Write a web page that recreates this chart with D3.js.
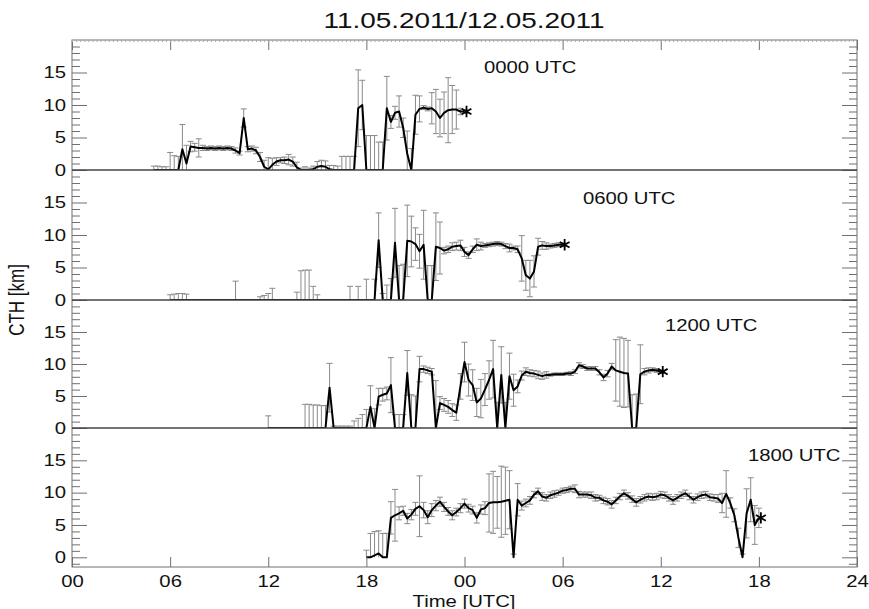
<!DOCTYPE html>
<html>
<head>
<meta charset="utf-8">
<script src="https://cdn.jsdelivr.net/npm/d3@7"></script>
<style>
  body { margin: 0; background: #fff; }
  text { font-family: "Liberation Sans", Arial, Helvetica, sans-serif; fill: #111; }
</style>
</head>
<body>
<div id="chart"></div>
<script>
// ---- data (CTH mean and spread, 15 min steps, one row per hour) ----
let titleText = "11.05.2011/12.05.2011";
let panelLabels = ["0000 UTC", "0600 UTC", "1200 UTC", "1800 UTC"];
let startHours = [5, 6, 12, 18];
let stepHours = 0.25;
let xTickHours = [0, 6, 12, 18, 24, 30, 36, 42, 48];
let xTickLabels = ["00", "06", "12", "18", "00", "06", "12", "18", "24"];
let yTickValues = [0, 5, 10, 15];

let cth0000 = [
  0, 0, 0, 0,            // 05
  0, 0, 0, 3.2,          // 06
  1.0, 3.6, 3.5, 3.4,    // 07
  3.4, 3.3, 3.4, 3.3,    // 08
  3.4, 3.3, 3.4, 3.3,    // 09
  3.0, 2.6, 8.0, 3.2,    // 10
  3.3, 3.0, 2.0, 0.5,    // 11
  0.1, 0.8, 1.3, 1.5,    // 12
  1.5, 1.6, 1.3, 0.4,    // 13
  0, 0, 0, 0.1,          // 14
  0.5, 0.6, 0.5, 0.1,    // 15
  0, 0, 0, 0,            // 16
  0, 0, 9.5, 10.0,       // 17
  0, 0, 0, 0,            // 18
  0, 9.5, 7.4, 8.8,      // 19
  9.0, 6.5, 2.5, 0,      // 20
  8.5, 9.4, 9.6, 9.4,    // 21
  9.5, 9.0, 8.0, 8.8,    // 22
  9.2, 9.3, 9.3, 9.0,    // 23
  9.0                    // 24
];
let err0000 = [
  0.6, 0.6, 0.5, 0.5,
  2.7, 2.2, 2.1, 3.8,
  2.8, 0.8, 0.6, 1.4,
  0.4, 0.3, 0.3, 0.3,
  0.3, 0.3, 0.3, 0.3,
  0.4, 0.3, 1.4, 0.4,
  0.4, 0.5, 0.7, 1.0,
  1.8, 1.0, 0.6, 0.4,
  0.5, 0.8, 0.7, 0.8,
  0.3, 0.5, 0.3, 0.5,
  0.8, 0.9, 0.9, 0.6,
  0.7, 0.6, 2.1, 2.1,
  2.1, 2.1, 5.9, 3.8,
  5.3, 5.3, 5.3, 4.3,
  4.3, 4.9, 1.0, 1.0,
  2.4, 1.5, 3.5, 3.3,
  3.0, 2.0, 0.3, 0.3,
  2.4, 3.4, 2.9, 3.2,
  5.0, 3.7, 3.0, 0.5,
  0.3
];

let cth0600 = [
  0, 0, 0, 0,            // 06
  0, 0, 0, 0,            // 07
  0, 0, 0, 0,            // 08
  0, 0, 0, 0,            // 09
  0, 0, 0, 0,            // 10
  0, 0, 0, 0,            // 11
  0, 0, 0, 0,            // 12
  0, 0, 0, 0,            // 13
  0, 0, 0, 0,            // 14
  0, 0, 0, 0,            // 15
  0, 0, 0, 0,            // 16
  0, 0, 0, 0,            // 17
  0, 0, 0, 9.2,          // 18
  0, 0, 0, 8.8,          // 19
  0, 0, 9.1, 9.0,        // 20
  8.6, 7.5, 8.5, 0,      // 21
  0, 8.2, 8.0, 7.6,      // 22
  7.8, 8.2, 8.3, 8.4,    // 23
  7.4, 6.9, 7.8, 8.5,    // 24
  8.3, 8.4, 8.5, 8.6,    // 25
  8.7, 8.6, 8.3, 8.0,    // 26
  8.0, 7.8, 6.4, 3.8,    // 27
  3.3, 4.4, 8.2, 8.4,    // 28
  8.3, 8.3, 8.4, 8.5,    // 29
  8.5                    // 30
];
let err0600 = [
  0.8, 0.9, 1.0, 1.0,
  0.9, 0, 0, 0,
  0, 0, 0, 0,
  0, 0, 0, 0,
  2.9, 0, 0, 0,
  0, 0, 0.5, 0.7,
  1.0, 1.8, 0, 0,
  0, 0, 0, 1.2,
  4.5, 4.6, 4.6, 2.1,
  0.8, 0, 0, 0,
  0, 0, 0, 0,
  2.1, 0, 2.1, 0,
  3.2, 0, 3.2, 4.2,
  1.0, 2.3, 3.3, 5.3,
  5.3, 5.5, 5.5, 3.9,
  2.5, 2.6, 5.3, 5.3,
  5.3, 5.2, 4.0, 0.5,
  0.5, 0.6, 0.6, 0.8,
  0.7, 0.5, 0.5, 0.9,
  0.6, 0.3, 0.3, 0.3,
  0.3, 0.3, 0.4, 0.6,
  0.3, 0.5, 3.5, 2.3,
  2.8, 2.4, 1.3, 0.6,
  0.5, 0.3, 0.3, 0.3,
  0.3
];

let cth1200 = [
  0, 0, 0, 0,            // 12
  0, 0, 0, 0,            // 13
  0, 0, 0, 0,            // 14
  0, 0, 0, 6.3,          // 15
  0, 0, 0, 0,            // 16
  0, 0, 0, 0,            // 17
  0, 3.3, 0, 4.9,        // 18
  5.2, 5.4, 6.7, 0,      // 19
  0, 0, 8.6, 0,          // 20
  0, 9.2, 9.2, 9.0,      // 21
  8.8, 0, 3.9, 3.6,      // 22
  3.3, 2.8, 2.4, 6.5,    // 23
  10.3, 7.5, 6.7, 4.0,   // 24
  4.6, 6.0, 7.5, 9.2,    // 25
  0, 8.3, 0, 8.1,        // 26
  5.9, 6.5, 8.2, 8.8,    // 27
  8.6, 8.5, 8.3, 8.1,    // 28
  8.3, 8.3, 8.4, 8.4,    // 29
  8.4, 8.5, 8.5, 8.8,    // 30
  9.8, 9.6, 9.3, 9.3,    // 31
  9.3, 8.7, 7.9, 8.5,    // 32
  9.6, 9.0, 8.8, 8.6,    // 33
  8.5, 0, 0, 8.4,        // 34
  8.8, 9.0, 9.1, 9.0,    // 35
  8.8                    // 36
];
let err1200 = [
  1.9, 0, 0, 0,
  0, 0, 0, 0,
  0, 3.7, 3.7, 3.6,
  3.6, 3.5, 3.5, 3.8,
  0.3, 0.3, 0.3, 0.3,
  0.3, 1.1, 1.5, 2.1,
  2.9, 3.3, 3.0, 1.3,
  1.0, 1.0, 4.3, 2.1,
  2.1, 2.1, 3.5, 5.2,
  5.0, 2.0, 0.5, 0.5,
  0.5, 7.4, 1.0, 1.0,
  1.0, 1.0, 1.2, 2.0,
  3.1, 2.5, 2.4, 2.2,
  3.0, 2.5, 3.0, 4.5,
  4.0, 4.4, 4.0, 3.6,
  2.5, 1.0, 0.7, 0.6,
  0.5, 0.5, 0.6, 0.5,
  0.5, 0.2, 0.2, 0.2,
  0.2, 0.2, 0.3, 0.3,
  0.4, 0.3, 0.3, 0.3,
  0.3, 0.4, 0.5, 0.5,
  0.5, 4.8, 5.4, 5.4,
  5.2, 5.2, 5.3, 4.6,
  0.5, 0.4, 0.3, 0.3,
  0.3
];

let cth1800 = [
  0, 0, 0.3, 0.6,        // 18
  0, 0, 6.1, 6.5,        // 19
  6.8, 7.2, 6.0, 6.6,    // 20
  7.5, 7.9, 7.3, 6.2,    // 21
  7.3, 8.0, 8.6, 7.8,    // 22
  7.1, 6.5, 7.0, 7.6,    // 23
  8.3, 7.6, 7.3, 6.1,    // 00
  7.4, 7.6, 8.4, 8.5,    // 01
  8.5, 8.6, 8.75, 8.9,   // 02
  0, 8.9, 8.0, 8.4,      // 03
  8.8, 9.7, 10.2, 9.4,   // 04
  9.2, 9.6, 9.8, 10.0,   // 05
  10.3, 10.4, 10.6, 10.6,// 06
  9.7, 9.7, 9.7, 9.6,    // 07
  9.2, 9.2, 8.8, 8.6,    // 08
  8.2, 8.8, 9.4, 9.9,    // 09
  9.5, 9.0, 8.5, 8.9,    // 10
  9.2, 9.4, 9.3, 9.4,    // 11
  9.7, 9.6, 9.2, 8.8,    // 12
  9.2, 9.6, 9.9, 9.4,    // 13
  8.9, 9.3, 9.6, 9.7,    // 14
  9.3, 9.2, 9.1, 8.4,    // 15
  9.8, 8.4, 6.5, 3.0,    // 16
  0, 6.8, 8.9, 5.0,      // 17
  6.1                    // 18
];
let err1800 = [
  1.1, 3.7, 3.7, 3.5,
  3.7, 3.7, 2.5, 4.0,
  1.0, 0.7, 0.8, 0.8,
  1.0, 4.7, 1.2, 1.0,
  1.0, 0.8, 0.7, 0.7,
  0.6, 0.7, 0.6, 0.7,
  0.7, 0.6, 0.6, 0.8,
  0.7, 1.0, 4.5, 4.8,
  4.0, 5.5, 5.2, 4.5,
  0.5, 2.5, 0.7, 0.6,
  0.6, 0.5, 0.5, 0.6,
  0.5, 0.5, 0.5, 0.4,
  0.4, 0.4, 0.4, 0.6,
  0.5, 0.4, 0.4, 0.5,
  0.5, 0.4, 0.5, 0.5,
  0.6, 0.5, 0.5, 0.5,
  0.5, 0.5, 0.6, 0.5,
  0.5, 0.5, 0.5, 0.5,
  0.5, 0.5, 0.5, 0.6,
  0.5, 0.5, 0.5, 0.5,
  0.5, 0.5, 0.5, 0.5,
  0.5, 0.5, 0.6, 1.5,
  3.6, 0.8, 1.0, 1.5,
  0.5, 3.8, 3.4, 3.0,
  1.5
];

let cthSeries = [cth0000, cth0600, cth1200, cth1800];
let errSeries = [err0000, err0600, err1200, err1800];

// ---- layout ----
let svgWidth = 869;
let svgHeight = 609;
let stretch = 1.27;           // glyphs in the figure are wider than tall
let left = 72, right = 857;
let panelTop = [40, 170, 300, 428];
let panelBottom = [170, 300, 428, 567];
let panelMin = [0, 0, 0, -1.5];
let labelPos = [[484, 73], [583, 204], [665, 331], [748, 461]];

let svg = d3.select("#chart")
  .append("svg")
  .attr("width", svgWidth)
  .attr("height", svgHeight);

let x = d3.scaleLinear().domain([0, 48]).range([left, right]);

function stretchText(sel, dx) {
  sel.attr("transform", `scale(${stretch},1)`).attr("x", dx / stretch);
}

function label(txt, px, py, size, anchor) {
  return svg.append("text")
    .attr("transform", `translate(${px},${py}) scale(${stretch},1)`)
    .attr("text-anchor", anchor || "start")
    .style("font-size", size + "px")
    .text(txt);
}

let frameColor = "#707070";

cthSeries.forEach((vals, p) => {
  let y = d3.scaleLinear().domain([panelMin[p], 20]).range([panelBottom[p], panelTop[p]]);
  let pts = vals.map((v, i) => ({ t: startHours[p] + i * stepHours, v: v, e: errSeries[p][i] }));

  svg.append("clipPath").attr("id", "clip" + p)
    .append("rect")
    .attr("x", left).attr("y", panelTop[p])
    .attr("width", right - left).attr("height", panelBottom[p] - panelTop[p]);

  // left axis: major with labels, minor without
  svg.append("g").attr("transform", `translate(${left},0)`)
    .call(d3.axisLeft(y).tickValues(yTickValues).tickSize(-15).tickPadding(6))
    .call(g => g.select(".domain").remove())
    .call(g => g.selectAll("line").attr("stroke", frameColor))
    .call(g => g.selectAll("text").style("font-size", "16px")
      .style("font-family", "Liberation Sans, Arial, sans-serif").call(stretchText, -6));
  let minorVals = d3.range(Math.ceil(panelMin[p]), 20).filter(v => v % 5 !== 0);
  svg.append("g").attr("transform", `translate(${left},0)`)
    .call(d3.axisLeft(y).tickValues(minorVals).tickSize(-8).tickFormat(""))
    .call(g => g.select(".domain").remove())
    .call(g => g.selectAll("line").attr("stroke", frameColor));

  // right axis mirrors ticks
  svg.append("g").attr("transform", `translate(${right},0)`)
    .call(d3.axisRight(y).tickValues(yTickValues).tickSize(-15).tickFormat(""))
    .call(g => g.select(".domain").remove())
    .call(g => g.selectAll("line").attr("stroke", frameColor));
  svg.append("g").attr("transform", `translate(${right},0)`)
    .call(d3.axisRight(y).tickValues(minorVals).tickSize(-8).tickFormat(""))
    .call(g => g.select(".domain").remove())
    .call(g => g.selectAll("line").attr("stroke", frameColor));

  let plot = svg.append("g").attr("clip-path", `url(#clip${p})`);

  // error bars
  let bars = pts.filter(d => d.e > 0);
  let lo = d => Math.max(0, d.v - d.e);
  plot.selectAll(".bar" + p).data(bars).enter().append("line")
    .attr("x1", d => x(d.t)).attr("x2", d => x(d.t))
    .attr("y1", d => y(lo(d))).attr("y2", d => y(d.v + d.e))
    .attr("stroke", "#8a8a8a").attr("stroke-width", 1);
  plot.selectAll(".capTop" + p).data(bars).enter().append("line")
    .attr("x1", d => x(d.t) - 3).attr("x2", d => x(d.t) + 3)
    .attr("y1", d => y(d.v + d.e)).attr("y2", d => y(d.v + d.e))
    .attr("stroke", "#8a8a8a").attr("stroke-width", 1);
  plot.selectAll(".capBot" + p).data(bars.filter(d => d.v - d.e > 0)).enter().append("line")
    .attr("x1", d => x(d.t) - 3).attr("x2", d => x(d.t) + 3)
    .attr("y1", d => y(d.v - d.e)).attr("y2", d => y(d.v - d.e))
    .attr("stroke", "#8a8a8a").attr("stroke-width", 1);

  // mean line
  plot.append("path")
    .datum(pts)
    .attr("fill", "none")
    .attr("stroke", "#000")
    .attr("stroke-width", 2)
    .attr("stroke-linejoin", "round")
    .attr("d", d3.line().x(d => x(d.t)).y(d => y(d.v)));

  // asterisk at the trajectory end
  let last = pts[pts.length - 1];
  svg.append("path")
    .attr("d", d3.symbol(d3.symbolAsterisk, 90)())
    .attr("transform", `translate(${x(last.t) + 2},${y(last.v)})`)
    .attr("fill", "none").attr("stroke", "#000").attr("stroke-width", 1.8);

  label(panelLabels[p], labelPos[p][0], labelPos[p][1], 16);
});

// frame
svg.append("rect")
  .attr("x", left).attr("y", panelTop[0])
  .attr("width", right - left).attr("height", panelBottom[3] - panelTop[0])
  .attr("fill", "none").attr("stroke", frameColor);
svg.selectAll(".sep").data(panelBottom.slice(0, 3)).enter().append("line")
  .attr("x1", left).attr("x2", right)
  .attr("y1", d => d).attr("y2", d => d)
  .attr("stroke", "#444").attr("stroke-width", 1.5);

// top axis: major ticks + dense minor ticks
svg.append("g").attr("transform", `translate(0,${panelTop[0]})`)
  .call(d3.axisTop(x).tickValues(xTickHours).tickSize(-10).tickFormat(""))
  .call(g => g.select(".domain").remove())
  .call(g => g.selectAll("line").attr("stroke", frameColor));
svg.append("g").attr("transform", `translate(0,${panelTop[0]})`)
  .call(d3.axisTop(x).tickValues(d3.range(0, 48, 0.25)).tickSize(-2).tickFormat(""))
  .call(g => g.select(".domain").remove())
  .call(g => g.selectAll("line").attr("stroke", "#aaa"));

// bottom axis
svg.append("g").attr("transform", `translate(0,${panelBottom[3]})`)
  .call(d3.axisBottom(x).tickValues(xTickHours).tickSize(-10).tickPadding(9)
    .tickFormat((d, i) => xTickLabels[i]))
  .call(g => g.select(".domain").remove())
  .call(g => g.selectAll("line").attr("stroke", frameColor))
  .call(g => g.selectAll("text").style("font-size", "16px")
    .style("font-family", "Liberation Sans, Arial, sans-serif")
    .attr("transform", `scale(${stretch},1)`));

// titles
label(titleText, 464, 28, 22, "middle");
label("Time [UTC]", 464, 607, 16, "middle");
svg.append("text")
  .attr("transform", `translate(24,300) scale(${stretch},1) rotate(-90)`)
  .attr("text-anchor", "middle")
  .style("font-size", "17px")
  .text("CTH [km]");
</script>
</body>
</html>
